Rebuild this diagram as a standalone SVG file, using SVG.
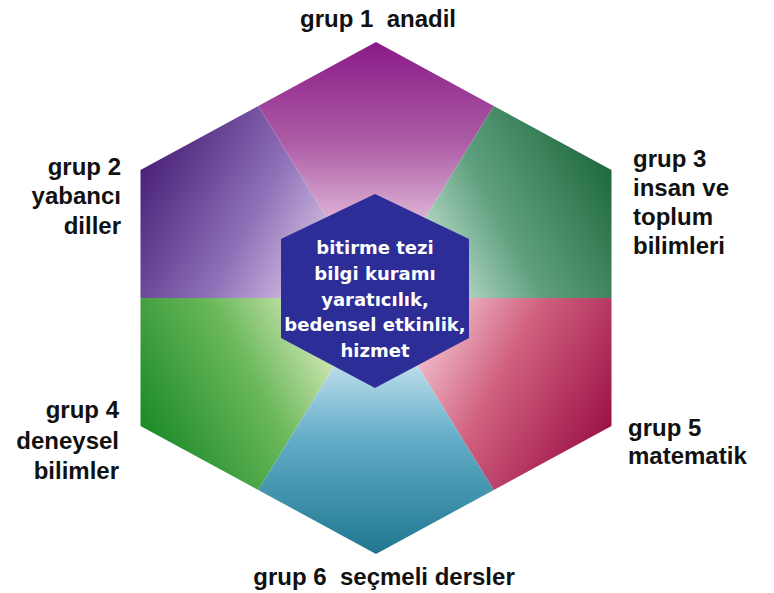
<svg xmlns="http://www.w3.org/2000/svg" width="774" height="593" viewBox="0 0 774 593">
<style>
.lbl{font-family:"Liberation Sans",Arial,sans-serif;font-weight:bold;font-size:24px;fill:#111}
.in{font-family:"DejaVu Sans",Verdana,sans-serif;font-weight:bold;font-size:18px;fill:#fff;text-anchor:middle}
.r{text-anchor:end}
.m{text-anchor:middle}
</style>
<defs>
<linearGradient id="gTop" gradientUnits="userSpaceOnUse" x1="376" y1="42" x2="376" y2="298">
<stop offset="0" stop-color="#8a1a88"/><stop offset="0.4" stop-color="#ad5ea6"/><stop offset="0.75" stop-color="#e6c2de"/><stop offset="1" stop-color="#fbf0f8"/>
</linearGradient>
<linearGradient id="gUL" gradientUnits="userSpaceOnUse" x1="140.5" y1="170" x2="376" y2="298">
<stop offset="0" stop-color="#4a2278"/><stop offset="0.45" stop-color="#8f70b8"/><stop offset="0.8" stop-color="#dccbe8"/><stop offset="1" stop-color="#f8f2fb"/>
</linearGradient>
<linearGradient id="gUR" gradientUnits="userSpaceOnUse" x1="611.5" y1="170" x2="376" y2="298">
<stop offset="0" stop-color="#206a40"/><stop offset="0.45" stop-color="#5fa07e"/><stop offset="0.8" stop-color="#cbe6da"/><stop offset="1" stop-color="#f4fbf8"/>
</linearGradient>
<linearGradient id="gLR" gradientUnits="userSpaceOnUse" x1="611.5" y1="426" x2="376" y2="298">
<stop offset="0" stop-color="#9c1248"/><stop offset="0.45" stop-color="#d0607e"/><stop offset="0.8" stop-color="#f4c8d4"/><stop offset="1" stop-color="#fdf2f5"/>
</linearGradient>
<linearGradient id="gB" gradientUnits="userSpaceOnUse" x1="376" y1="554" x2="376" y2="298">
<stop offset="0" stop-color="#207890"/><stop offset="0.45" stop-color="#62acc8"/><stop offset="0.8" stop-color="#cfe8f2"/><stop offset="1" stop-color="#f4fafc"/>
</linearGradient>
<linearGradient id="gLL" gradientUnits="userSpaceOnUse" x1="140.5" y1="426" x2="376" y2="298">
<stop offset="0" stop-color="#1c8a28"/><stop offset="0.45" stop-color="#6ab85a"/><stop offset="0.8" stop-color="#dcecc0"/><stop offset="1" stop-color="#f8fbf0"/>
</linearGradient>
</defs>
<rect width="774" height="593" fill="#fff"/>

<g id="grup1">
<polygon points="376,298 258.25,106 376,42 493.75,106" fill="url(#gTop)"/>
<text class="lbl m" x="378" y="27" xml:space="preserve">grup 1  anadil</text>
</g>
<g id="grup2">
<polygon points="376,298 140.5,298 140.5,170 258.25,106" fill="url(#gUL)"/>
<text class="lbl r" x="121" y="175">grup 2</text>
<text class="lbl r" x="121" y="204">yabancı</text>
<text class="lbl r" x="121" y="234">diller</text>
</g>
<g id="grup3">
<polygon points="376,298 493.75,106 611.5,170 611.5,298" fill="url(#gUR)"/>
<text class="lbl" x="633" y="167">grup 3</text>
<text class="lbl" x="633" y="196">insan ve</text>
<text class="lbl" x="633" y="225">toplum</text>
<text class="lbl" x="633" y="254">bilimleri</text>
</g>
<g id="grup4">
<polygon points="376,298 258.25,490 140.5,426 140.5,298" fill="url(#gLL)"/>
<text class="lbl r" x="119" y="418">grup 4</text>
<text class="lbl r" x="119" y="449">deneysel</text>
<text class="lbl r" x="119" y="479">bilimler</text>
</g>
<g id="grup5">
<polygon points="376,298 611.5,298 611.5,426 493.75,490" fill="url(#gLR)"/>
<text class="lbl" x="628" y="436">grup 5</text>
<text class="lbl" x="628" y="464">matematik</text>
</g>
<g id="grup6">
<polygon points="376,298 493.75,490 376,554 258.25,490" fill="url(#gB)"/>
<text class="lbl m" x="384" y="585" xml:space="preserve">grup 6  seçmeli dersler</text>
</g>
<g id="merkez">
<polygon points="375,194 469,239 469,338 375,388 281,338 281,239" fill="#2d2d98"/>
<text class="in" x="375" y="254">bitirme tezi</text>
<text class="in" x="375" y="280">bilgi kuramı</text>
<text class="in" x="375" y="306">yaratıcılık,</text>
<text class="in" x="375" y="331">bedensel etkinlik,</text>
<text class="in" x="375" y="357">hizmet</text>
</g>
<g id="connectors"/>
</svg>
